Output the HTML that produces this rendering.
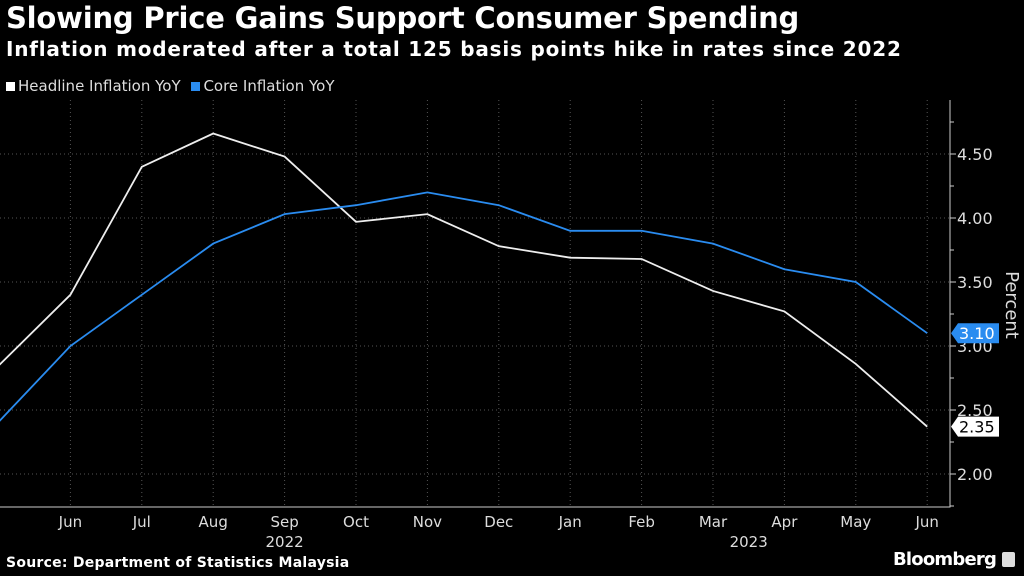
<!DOCTYPE html>
<html><head><meta charset="utf-8"><style>
body{margin:0;background:#000;width:1024px;height:576px;overflow:hidden;font-family:"DejaVu Sans",sans-serif;color:#fff}
.t{position:absolute;left:6px;white-space:nowrap}
</style></head><body>
<div class="t" style="top:1px;font-size:29px;font-weight:bold;letter-spacing:-0.2px">Slowing Price Gains Support Consumer Spending</div>
<div class="t" style="top:37px;font-size:20px;font-weight:bold;letter-spacing:0.8px">Inflation moderated after a total 125 basis points hike in rates since 2022</div>
<div class="t" style="top:77px;font-size:15px;color:#ddd">
<span><span style="display:inline-block;width:9px;height:9px;background:#fff;margin-right:3px"></span>Headline Inflation YoY</span>
<span style="margin-left:6px"><span style="display:inline-block;width:9px;height:9px;background:#2a8cf0;margin-right:3px"></span>Core Inflation YoY</span></div>
<div class="t" style="top:555px;font-size:14px;font-weight:bold;letter-spacing:0.25px">Source: Department of Statistics Malaysia</div>
<div style="position:absolute;left:893px;top:549px;font-size:18px;font-weight:bold;letter-spacing:-0.8px">Bloomberg <span style="display:inline-block;width:13px;height:15px;background:#ddd;border-radius:2px;vertical-align:-2px"></span></div>
<svg id="c" width="1024" height="576" style="position:absolute;left:0;top:0"></svg>
<script>
const months=["May","Jun","Jul","Aug","Sep","Oct","Nov","Dec","Jan","Feb","Mar","Apr","May","Jun"];
const headline=[2.85,3.4,4.4,4.66,4.48,3.97,4.03,3.78,3.69,3.68,3.43,3.27,2.86,2.37];
const core=[2.41,3.0,3.4,3.8,4.03,4.1,4.2,4.1,3.9,3.9,3.8,3.6,3.5,3.1];
const yTicks=[2.0,2.5,3.0,3.5,4.0,4.5];
const yTickLabels=["2.00","2.50","3.00","3.50","4.00","4.50"];
const years=[{label:"2022",from:1,to:7},{label:"2023",from:8,to:13}];
const headLast="2.35",coreLast="3.10";
const svg=document.getElementById('c'),NS="http://www.w3.org/2000/svg";
const X=i=>-1+i*71.4, Y=v=>474-(v-2)*128;
const FF='DejaVu Sans';
function mk(t,a,txt){const e=document.createElementNS(NS,t);for(const k in a)e.setAttribute(k,a[k]);if(txt!=null)e.textContent=txt;svg.appendChild(e);return e;}
const plotTop=100,plotBot=507,plotRight=950;
months.forEach((m,i)=>{const g=mk('line',{x1:X(i),x2:X(i),y1:plotTop,y2:plotBot,stroke:'#555','stroke-dasharray':'1,3'});

if(i>0){const t=mk('text',{x:X(i),y:527,fill:'#ddd','font-size':15,'text-anchor':'middle','font-family':FF},m);
}});
years.forEach(y=>{const t=mk('text',{x:(X(y.from)+X(y.to))/2,y:547,fill:'#ddd','font-size':15,'text-anchor':'middle','font-family':FF},y.label);
});
yTicks.forEach((v,i)=>{const g=mk('line',{x1:0,x2:plotRight,y1:Y(v),y2:Y(v),stroke:'#555','stroke-dasharray':'1,3'});

mk('line',{x1:plotRight,x2:plotRight+6,y1:Y(v),y2:Y(v),stroke:'#ccc'});
mk('line',{x1:plotRight,x2:plotRight+4,y1:Y(v+0.25),y2:Y(v+0.25),stroke:'#ccc'});
const t=mk('text',{x:957,y:Y(v)+6,fill:'#ddd','font-size':16,'font-family':FF},yTickLabels[i]);
});
mk('line',{x1:plotRight,x2:plotRight+4,y1:Y(1.75),y2:Y(1.75),stroke:'#ccc'});
const ax=mk('path',{d:`M${plotRight},${plotTop}V${plotBot}H0`,stroke:'#ccc',fill:'none'});

const yt=mk('text',{x:1006,y:305,fill:'#ddd','font-size':18,'text-anchor':'middle','font-family':FF,transform:'rotate(90 1006 305)'},"Percent");

function line(d,c,n){const p=mk('polyline',{points:d.map((v,i)=>X(i)+','+Y(v)).join(' '),fill:'none',stroke:c,'stroke-width':1.8});
}
line(headline,'#eee','headline-line');line(core,'#2a8cf0','core-line');
function tag(v,txt,bg,fg,n){const y=Y(v),x=951;const p=mk('path',{d:`M${x},${y}L${x+7},${y-10}H${x+48}V${y+10}H${x+7}Z`,fill:bg});

mk('text',{x:x+8,y:y+6,fill:fg,'font-size':16,'font-family':FF},txt);}
tag(core[13],coreLast,'#2a8cf0','#fff','core-last-value');
tag(headline[13],headLast,'#fff','#000','headline-last-value');
</script>
</body></html>
